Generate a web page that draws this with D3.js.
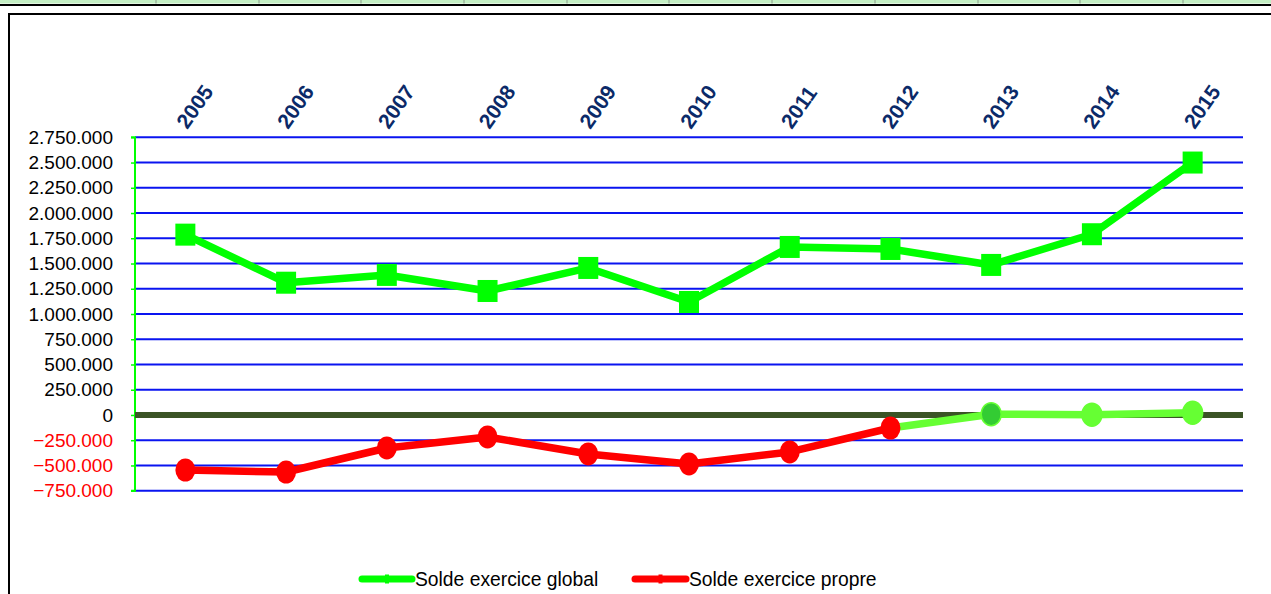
<!DOCTYPE html>
<html>
<head>
<meta charset="utf-8">
<script src="https://cdn.jsdelivr.net/npm/d3@7"></script>
<style>
  html, body { margin: 0; padding: 0; background: #fff; overflow: hidden; }
  svg { display: block; font-family: "Liberation Sans", Arial, sans-serif; }
</style>
</head>
<body>
<svg id="chart" width="1271" height="594"></svg>
<script>
// Years on the category axis
const years = ["2005", "2006", "2007", "2008", "2009", "2010", "2011", "2012", "2013", "2014", "2015"];
// Overall balance of the financial year
const soldeGlobal = [1786000, 1310000, 1387000, 1228000, 1456000, 1119000, 1664000, 1644000, 1486000, 1790000, 2500000];
// Own balance of the financial year
const soldePropre = [-545000, -565000, -327000, -218000, -386000, -485000, -366000, -129000, 8000, 3000, 22000];
// Value axis ticks
const yTicks = [2750000, 2500000, 2250000, 2000000, 1750000, 1500000, 1250000, 1000000, 750000, 500000, 250000, 0, -250000, -500000, -750000];
const seriesNames = ["Solde exercice global", "Solde exercice propre"];

const svg = d3.select("#chart");

// spreadsheet strip above the chart object
svg.append("rect").attr("x", 0).attr("y", 0).attr("width", 1271).attr("height", 3.5).attr("fill", "#c4efc4");
[156, 259, 361, 464, 567, 669, 772, 875, 978, 1080, 1183].forEach(x => {
  svg.append("line").attr("x1", x).attr("x2", x).attr("y1", 0).attr("y2", 3.5)
    .attr("stroke", "#8a9a8a").attr("stroke-width", 1);
});
svg.append("rect").attr("x", 0).attr("y", 4).attr("width", 1271).attr("height", 2).attr("fill", "#000");

// chart frame
svg.append("rect").attr("x", 9).attr("y", 14).attr("width", 1280).attr("height", 600)
  .attr("fill", "#fff").attr("stroke", "#000").attr("stroke-width", 2);

const left = 135, right = 1243;
const x = d3.scaleBand().domain(years).range([left, right]).padding(0);
const y = d3.scaleLinear().domain([-750000, 2750000]).range([490.7, 137.3]);
const cx = d => x(d) + x.bandwidth() / 2;

const fmt = v => v === 0 ? "0" : d3.format(",.0f")(v).replace(/,/g, ".");

// horizontal gridlines
svg.append("g").selectAll("line").data(yTicks.filter(t => t !== 0)).join("line")
  .attr("x1", left).attr("x2", right)
  .attr("y1", d => y(d)).attr("y2", d => y(d))
  .attr("stroke", "#0a14f0").attr("stroke-width", 2);

// value axis with its labels
const yAxis = d3.axisLeft(y).tickValues(yTicks).tickSize(4).tickPadding(18).tickFormat(fmt);
const gy = svg.append("g").attr("transform", `translate(${left},0)`).call(yAxis);
gy.select(".domain").attr("stroke", "#00ff00").attr("stroke-width", 2).attr("d", `M-4,${y(2750000)}H0V${y(-750000)}H-4`);
gy.selectAll(".tick line").attr("stroke", "#00ff00").attr("stroke-width", 1.5);
gy.selectAll(".tick text")
  .attr("font-size", "19px")
  .attr("font-family", "'Liberation Sans', Arial, sans-serif")
  .attr("fill", d => d < 0 ? "#ff0000" : "#000");

// zero line
svg.append("line").attr("x1", left).attr("x2", right).attr("y1", y(0)).attr("y2", y(0))
  .attr("stroke", "#3b5426").attr("stroke-width", 6);

// rotated year labels above the plot
svg.append("g").selectAll("text").data(years).join("text")
  .attr("transform", d => `translate(${cx(d) + 2},130) rotate(-55)`)
  .attr("font-size", "21px").attr("font-weight", "bold")
  .attr("fill", "#0b2a68")
  .text(d => d);

const line = d3.line().x(d => cx(d.year)).y(d => y(d.v));

// overall balance series
const gData = years.map((yr, i) => ({ year: yr, v: soldeGlobal[i] }));
svg.append("path").datum(gData).attr("d", line)
  .attr("fill", "none").attr("stroke", "#00ff00").attr("stroke-width", 7.5).attr("stroke-linejoin", "round");
svg.append("g").selectAll("rect").data(gData).join("rect")
  .attr("x", d => cx(d.year) - 10).attr("y", d => y(d.v) - 11)
  .attr("width", 20).attr("height", 22)
  .attr("fill", "#00ff00");

// own balance series: red up to 2012, light green afterwards
const pData = years.map((yr, i) => ({ year: yr, v: soldePropre[i] }));
const redPart = pData.slice(0, 8);
const greenPart = pData.slice(7);
svg.append("path").datum(greenPart).attr("d", line)
  .attr("fill", "none").attr("stroke", "#66ff33").attr("stroke-width", 7.5).attr("stroke-linejoin", "round");
svg.append("path").datum(redPart).attr("d", line)
  .attr("fill", "none").attr("stroke", "#ff0000").attr("stroke-width", 7.5).attr("stroke-linejoin", "round");
svg.append("g").selectAll("ellipse").data(pData).join("ellipse")
  .attr("cx", d => cx(d.year)).attr("cy", d => y(d.v))
  .attr("rx", 10).attr("ry", 11.5)
  .attr("fill", (d, i) => i < 8 ? "#ff0000" : (i === 8 ? "#33cc33" : "#66ff33"))
  .attr("stroke", (d, i) => i < 8 ? "none" : "#66ff33")
  .attr("stroke-width", 1.5);

// legend
const legend = [
  { name: seriesNames[0], color: "#00ff00", x0: 362, x1: 412, tx: 415 },
  { name: seriesNames[1], color: "#ff0000", x0: 635, x1: 686, tx: 689 }
];
const lg = svg.append("g");
legend.forEach(l => {
  lg.append("line").attr("x1", l.x0).attr("x2", l.x1).attr("y1", 579).attr("y2", 579)
    .attr("stroke", l.color).attr("stroke-width", 7).attr("stroke-linecap", "round");
  lg.append("rect").attr("x", (l.x0 + l.x1) / 2 - 2).attr("y", 574.5).attr("width", 4).attr("height", 9).attr("fill", l.color);
  lg.append("text").attr("x", l.tx).attr("y", 586).attr("font-size", "19.3px").attr("fill", "#000").text(l.name);
});
</script>
</body>
</html>
